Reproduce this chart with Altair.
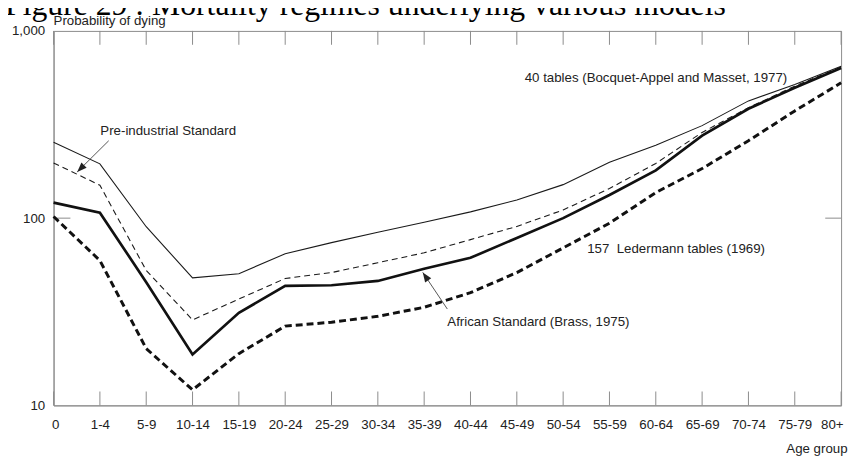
import altair as alt
import pandas as pd

fig_title = "Figure 29 : Mortality regimes underlying various models"
y_title = "Probability of dying"
x_title = "Age group"

ages = ["0", "1-4", "5-9", "10-14", "15-19", "20-24", "25-29", "30-34", "35-39",
        "40-44", "45-49", "50-54", "55-59", "60-64", "65-69", "70-74", "75-79", "80+"]

bocquet = [254, 195, 90, 48, 50.5, 64.5, 74, 84, 95, 108, 125, 151, 199, 245, 312, 423, 518, 648]
preind = [197, 150, 52.6, 28.6, 37, 47.6, 51.2, 57.8, 65.3, 76.8, 90.3, 110.6, 144, 196, 287, 389, 507, 640]
ledermann = [121, 107, 45.5, 18.7, 31.2, 43.5, 43.8, 46.2, 53.7, 61.4, 78.4, 100, 133, 180, 276, 384, 497, 634]
african = [102, 59.4, 20.1, 12.1, 18.9, 26.5, 27.8, 29.9, 33.4, 40, 51.2, 69.4, 94, 137, 184, 259, 374, 528]

series_names = ["bocquet", "preind", "ledermann", "african"]
series_vals = [bocquet, preind, ledermann, african]

ann_text = ["40 tables (Bocquet-Appel and Masset, 1977)", "Pre-industrial Standard",
            "157\u00a0 Ledermann tables (1969)", "African Standard (Brass, 1975)"]
ann_idx = [10.17, 1.01, 11.52, 8.50]
ann_val = [559, 291, 68, 28]

arrow_tail_idx = [1.19, 8.50]
arrow_tail_val = [259, 32.7]
arrow_tip_idx = [0.51, 7.97]
arrow_tip_val = [176.5, 51.3]
arrow_angle = [225, 326]

rows = []
for name, vals in zip(series_names, series_vals):
    for i, v in enumerate(vals):
        rows.append({"series": name, "idx": i, "value": v})
df = pd.DataFrame(rows)

W, H = 795, 378
FONT = "Liberation Sans"
FS = 13.4
GRAY = "#8c8c8c"
TXT = "#222222"

label_expr = "[" + ",".join("'" + a + "'" for a in ages) + "][datum.value]"
xscale = alt.Scale(domain=[0, len(ages) - 1], nice=False, zero=False)
yscale = alt.Scale(type="log", domain=[10, 1000], nice=False)

xaxis = alt.Axis(values=list(range(len(ages))), labelExpr=label_expr, ticks=False, grid=False,
                 domainColor=GRAY, labelPadding=12, labelFontSize=FS, labelFont=FONT,
                 labelColor=TXT, labelFlush=True, labelFlushOffset=2, labelOverlap=False,
                 title=x_title, titleAnchor="end", titleAlign="right", titleBaseline="middle",
                 titleX=W + 6, titleY=44, titleFontWeight="normal", titleFontSize=FS,
                 titleFont=FONT, titleColor=TXT)
yaxis = alt.Axis(values=[10, 100, 1000], format=",", ticks=False, grid=False, domainColor=GRAY,
                 labelPadding=9, labelFontSize=FS, labelFont=FONT, labelColor=TXT, title=None)

X = alt.X("idx:Q", scale=xscale, axis=xaxis)
Y = alt.Y("value:Q", scale=yscale, axis=yaxis)

styles = {
    "bocquet": dict(strokeWidth=1.1, color="#1a1a1a"),
    "preind": dict(strokeWidth=1.1, color="#1a1a1a", strokeDash=[6, 4]),
    "ledermann": dict(strokeWidth=2.7, color="#111111"),
    "african": dict(strokeWidth=3, color="#111111", strokeDash=[7, 4]),
}

layers = []
# inward ticks
ticks_df = pd.DataFrame({"idx": list(range(len(ages)))})
layers.append(alt.Chart(ticks_df).mark_rule(color=GRAY, strokeWidth=1).encode(
    x=X, y=alt.value(H), y2=alt.value(H - 14)))
layers.append(alt.Chart(ticks_df).mark_rule(color=GRAY, strokeWidth=1).encode(
    x=X, y=alt.value(0), y2=alt.value(14)))
ytick_df = pd.DataFrame({"value": [100]})
layers.append(alt.Chart(ytick_df).mark_rule(color=GRAY, strokeWidth=1).encode(
    y=Y, x=alt.value(0), x2=alt.value(17)))
layers.append(alt.Chart(ytick_df).mark_rule(color=GRAY, strokeWidth=1).encode(
    y=Y, x=alt.value(W), x2=alt.value(W - 16)))

for name in series_names:
    layers.append(alt.Chart(df).transform_filter(alt.datum.series == name)
                  .mark_line(**styles[name]).encode(x=X, y=Y))

ann_df = pd.DataFrame({"text": ann_text, "idx": ann_idx, "value": ann_val})
layers.append(alt.Chart(ann_df).mark_text(align="left", baseline="middle", font=FONT,
                                          fontSize=FS, color=TXT).encode(x=X, y=Y, text="text:N"))

arr_df = pd.DataFrame({"idx": arrow_tail_idx, "value": arrow_tail_val,
                       "idx2": arrow_tip_idx, "value2": arrow_tip_val, "ang": arrow_angle})
layers.append(alt.Chart(arr_df).mark_rule(color="#555555", strokeWidth=1).encode(
    x=X, y=Y, x2="idx2:Q", y2="value2:Q"))
layers.append(alt.Chart(arr_df).mark_point(shape="M0,0L0.38,1L-0.38,1Z", filled=True, size=380,
                                           color="#222222", opacity=1).encode(
    x=alt.X("idx2:Q", scale=xscale, axis=xaxis), y=alt.Y("value2:Q", scale=yscale, axis=yaxis),
    angle=alt.Angle("ang:Q", scale=None)))

ytitle_df = pd.DataFrame({"t": [y_title]})
layers.append(alt.Chart(ytitle_df).mark_text(align="left", baseline="alphabetic", font=FONT,
                                             fontSize=FS, color=TXT).encode(
    text="t:N", x=alt.value(0), y=alt.value(-5.5)))

title_df = pd.DataFrame({"t": [fig_title]})
layers.append(alt.Chart(title_df).mark_text(align="left", baseline="alphabetic",
                                            font="Liberation Serif", fontSize=32,
                                            color="#000000").encode(
    text="t:N", x=alt.value(-49), y=alt.value(-16)))

chart = alt.layer(*layers).properties(
    width=W, height=H,
    autosize=alt.AutoSizeParams(type="none"),
    padding={"left": 46, "top": 21, "right": 10, "bottom": 52},
).configure_view(stroke=GRAY, strokeWidth=1)

chart.save("out.html", embed_options={"renderer": "svg", "actions": False})
